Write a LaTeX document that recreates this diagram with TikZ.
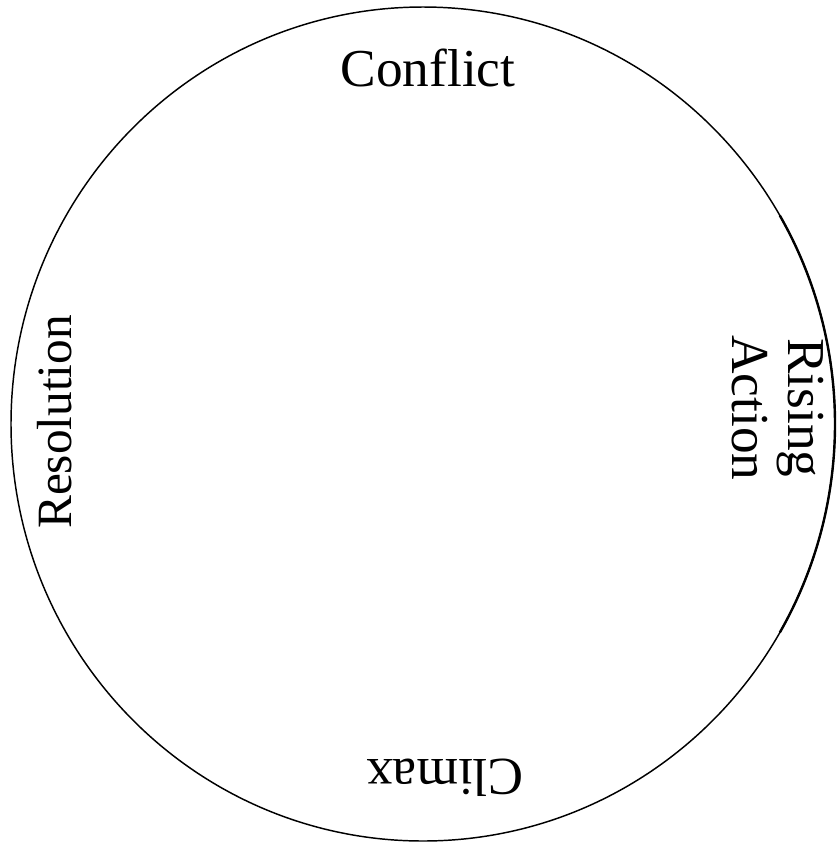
\documentclass[tikz,border=0pt]{standalone}
\usepackage{fontspec}
\setmainfont{Liberation Serif}
\begin{document}
\begin{tikzpicture}[x=0.75pt,y=-0.75pt,
  lbl/.style={font=\fontsize{40}{42}\selectfont, inner sep=0pt, align=center},
  rim/.style={draw=black, line width=1.1pt}]
\useasboundingbox (0,0) rectangle (838,844);
\coordinate (c) at (423,424);
\draw[rim] (c) ellipse [x radius=309pt, y radius=312.75pt];
\draw[line width=1.8pt] (c) ++(-30:309pt and 312.75pt) arc [start angle=-30, end angle=30, x radius=309pt, y radius=312.75pt];
\node[lbl] (conflict) at (428,68) {Conflict};
\node[lbl, rotate=-90] (rising) at (778,408) {Rising\\Action};
\node[lbl, rotate=180] (climax) at (445,778) {Climax};
\node[lbl, rotate=90, font=\fontsize{37}{40}\selectfont] (resolution) at (55,422) {Resolution};
\end{tikzpicture}
\end{document}
